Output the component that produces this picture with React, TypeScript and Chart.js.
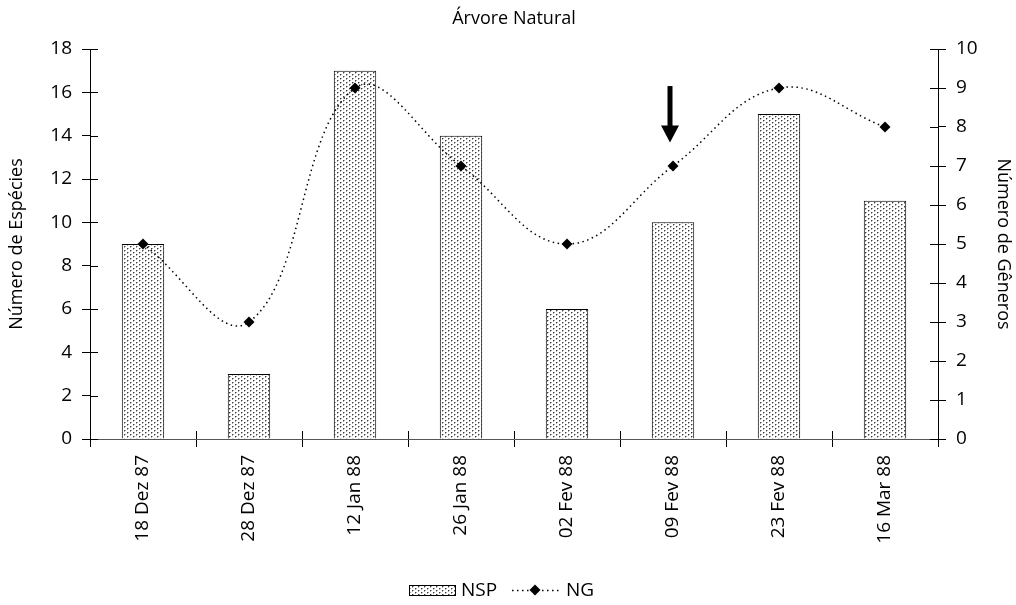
import React, { useEffect, useRef } from "react";
import { Chart, registerables } from "chart.js";

Chart.register(...registerables);

// ---- data ----
const categories = ["18 Dez 87", "28 Dez 87", "12 Jan 88", "26 Jan 88", "02 Fev 88", "09 Fev 88", "23 Fev 88", "16 Mar 88"];
const nspValues = [9, 3, 17, 14, 6, 10, 15, 11];
const ngValues = [5, 3, 9, 7, 5, 7, 9, 8];
const leftAxisMax = 18;
const leftAxisStep = 2;
const rightAxisMax = 10;
const rightAxisStep = 1;
const chartTitle = "Árvore Natural";
const leftAxisTitle = "Número de Espécies";
const rightAxisTitle = "Número de Gêneros";
const seriesNames = ["NSP", "NG"];
// arrow annotation (category, from/to in NG axis units)
const arrowCategory = "09 Fev 88";
const arrowFrom = 9.05;
const arrowTo = 7.6;

const FONT = "'Open Sans', 'Noto Sans', sans-serif";

function makePattern(ctx: CanvasRenderingContext2D): CanvasPattern | string {
  const c = document.createElement("canvas");
  c.width = 6;
  c.height = 4;
  const g = c.getContext("2d");
  if (!g) return "#ddd";
  g.fillStyle = "#ffffff";
  g.fillRect(0, 0, 6, 4);
  g.fillStyle = "#3c3c3c";
  g.fillRect(1, 0, 1, 1);
  g.fillRect(4, 2, 1, 1);
  g.fillStyle = "#a8a8a8";
  g.fillRect(2, 0, 1, 1);
  g.fillRect(1, 1, 1, 1);
  g.fillRect(5, 2, 1, 1);
  g.fillRect(4, 3, 1, 1);
  return ctx.createPattern(c, "repeat") || "#ddd";
}

export default function App() {
  const ref = useRef<HTMLCanvasElement | null>(null);

  useEffect(() => {
    const canvas = ref.current;
    if (!canvas) return;
    const ctx0 = canvas.getContext("2d");
    if (!ctx0) return;
    const pattern = makePattern(ctx0);

    const decor = {
      id: "decor",
      afterDraw(chart: any) {
        const ctx: CanvasRenderingContext2D = chart.ctx;
        const area = chart.chartArea;
        const xs = chart.scales.x;
        const yl = chart.scales.y;
        const yr = chart.scales.y1;
        ctx.save();
        // inner halves of cross tick marks
        ctx.strokeStyle = "#000";
        ctx.lineWidth = 1;
        ctx.beginPath();
        yl.ticks.forEach((t: any) => {
          const y = Math.round(yl.getPixelForValue(t.value)) + 0.5;
          ctx.moveTo(area.left, y);
          ctx.lineTo(area.left + 8, y);
        });
        yr.ticks.forEach((t: any) => {
          const y = Math.round(yr.getPixelForValue(t.value)) + 0.5;
          ctx.moveTo(area.right, y);
          ctx.lineTo(area.right - 8, y);
        });
        const half = (xs.getPixelForValue(1) - xs.getPixelForValue(0)) / 2;
        for (let i = 0; i <= categories.length; i++) {
          const x = Math.round(xs.getPixelForValue(i) - half) + 0.5;
          ctx.moveTo(x, area.bottom);
          ctx.lineTo(x, area.bottom - 8);
        }
        ctx.stroke();

        // title
        ctx.fillStyle = "#000";
        ctx.font = `18px ${FONT}`;
        ctx.textAlign = "center";
        ctx.textBaseline = "middle";
        ctx.fillText(chartTitle, (area.left + area.right) / 2, 19);

        // arrow
        const ai = categories.indexOf(arrowCategory);
        const ax = xs.getPixelForValue(ai) - 3;
        const ay0 = yr.getPixelForValue(arrowFrom);
        const ay1 = yr.getPixelForValue(arrowTo);
        const headH = 17;
        ctx.fillStyle = "#000";
        ctx.fillRect(ax - 2.5, ay0, 5, ay1 - ay0 - headH + 1);
        ctx.beginPath();
        ctx.moveTo(ax - 9, ay1 - headH);
        ctx.lineTo(ax + 9, ay1 - headH);
        ctx.lineTo(ax, ay1);
        ctx.closePath();
        ctx.fill();

        // legend
        const ly = 590;
        const bx = 409;
        ctx.fillStyle = pattern as any;
        ctx.fillRect(bx, ly - 5, 47, 11);
        ctx.strokeStyle = "#000";
        ctx.strokeRect(bx + 0.5, ly - 5 + 0.5, 46, 10);
        ctx.fillStyle = "#000";
        ctx.font = `19px ${FONT}`;
        ctx.textAlign = "left";
        ctx.textBaseline = "middle";
        ctx.fillText(seriesNames[0], 461, ly + 1);
        ctx.setLineDash([1.5, 3.5]);
        ctx.lineWidth = 1.5;
        ctx.beginPath();
        ctx.moveTo(512, ly + 0.5);
        ctx.lineTo(559, ly + 0.5);
        ctx.stroke();
        ctx.setLineDash([]);
        ctx.beginPath();
        ctx.moveTo(535, ly - 5.5);
        ctx.lineTo(540.5, ly);
        ctx.lineTo(535, ly + 5.5);
        ctx.lineTo(529.5, ly);
        ctx.closePath();
        ctx.fill();
        ctx.fillText(seriesNames[1], 566, ly + 1);
        ctx.restore();
      },
    };

    const tickFont = { family: FONT, size: 19 };
    const titleFont = { family: FONT, size: 18 };

    const chart = new Chart(canvas, {
      type: "bar",
      data: {
        labels: categories,
        datasets: [
          {
            type: "line",
            label: seriesNames[1],
            data: ngValues,
            yAxisID: "y1",
            borderColor: "#000",
            borderWidth: 1.5,
            borderDash: [1.5, 3.5],
            tension: 0.4,
            fill: false,
            pointStyle: "rectRot",
            pointRadius: 5.5,
            pointBackgroundColor: "#000",
            pointBorderColor: "#000",
            pointBorderWidth: 0,
            order: 0,
          } as any,
          {
            type: "bar",
            label: seriesNames[0],
            data: nspValues,
            yAxisID: "y",
            backgroundColor: pattern as any,
            borderColor: "#000",
            borderWidth: 1,
            barPercentage: 0.4,
            categoryPercentage: 1,
            order: 1,
          } as any,
        ],
      },
      options: {
        responsive: false,
        animation: false,
        layout: { padding: { top: 49, bottom: 0, left: 0, right: 0 } },
        plugins: {
          legend: { display: false },
          title: { display: false },
          tooltip: { enabled: false },
        },
        scales: {
          x: {
            offset: true,
            grid: { offset: true, drawOnChartArea: false, tickLength: 8, color: "#000" },
            border: { color: "#555", width: 1 },
            ticks: { minRotation: 90, maxRotation: 90, padding: 8, color: "#000", font: tickFont, autoSkip: false },
            afterFit: (s: any) => {
              s.height = 166;
            },
          },
          y: {
            position: "left",
            min: 0,
            max: leftAxisMax,
            grid: { drawOnChartArea: false, tickLength: 8, color: "#000" },
            border: { color: "#000", width: 1 },
            ticks: { stepSize: leftAxisStep, padding: 10, color: "#000", font: tickFont },
            title: { display: true, text: leftAxisTitle, color: "#000", font: titleFont, padding: { top: 6, bottom: 2 } },
            afterFit: (s: any) => {
              s.width = 90;
            },
          },
          y1: {
            position: "right",
            min: 0,
            max: rightAxisMax,
            grid: { drawOnChartArea: false, tickLength: 8, color: "#000" },
            border: { color: "#000", width: 1 },
            ticks: { stepSize: rightAxisStep, padding: 10, color: "#000", font: tickFont },
            title: { display: true, text: rightAxisTitle, color: "#000", font: titleFont, padding: { top: 2, bottom: 2 } },
            afterFit: (s: any) => {
              s.width = 78;
            },
          },
        },
      } as any,
      plugins: [decor],
    });

    return () => chart.destroy();
  }, []);

  return (
    <div style={{ position: "fixed", left: 0, top: 0, width: 1016, height: 605, background: "#fff" }}>
      <canvas ref={ref} width={1016} height={605} style={{ display: "block" }} />
    </div>
  );
}
